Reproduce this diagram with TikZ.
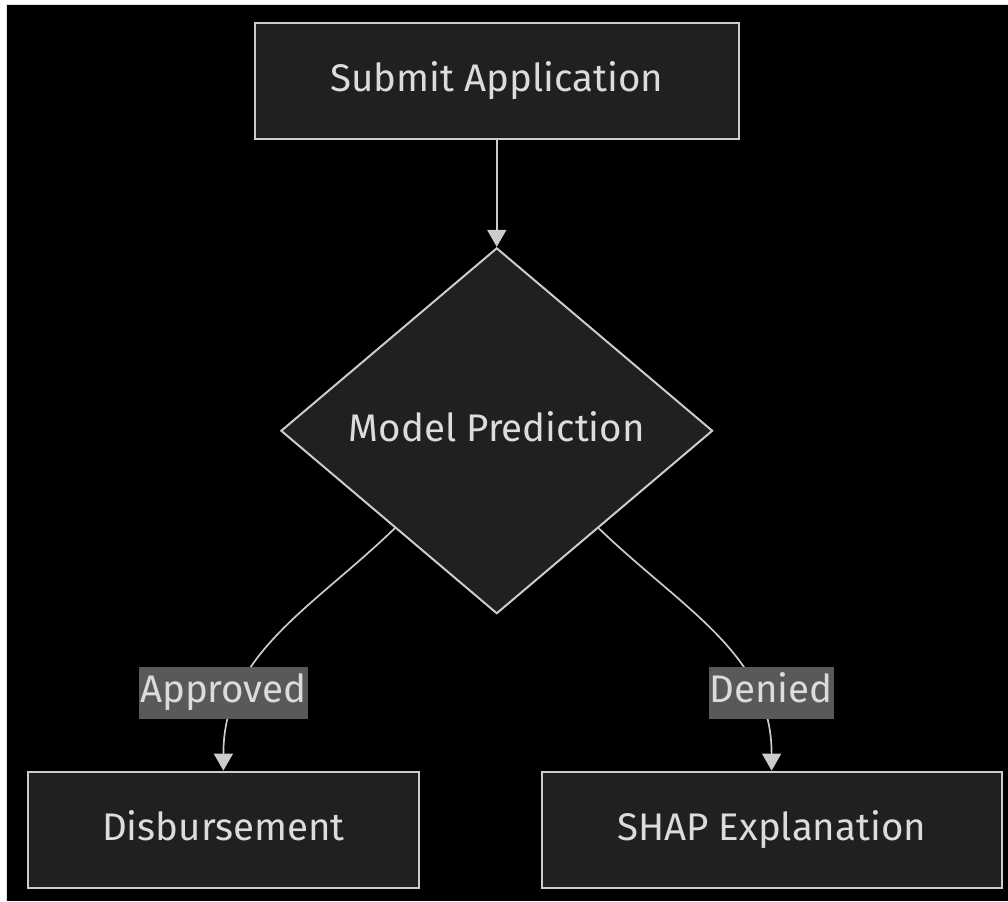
\documentclass[tikz,border=0pt]{standalone}
\usepackage{fontspec}
\setmainfont{Fira Sans}
\usetikzlibrary{shapes.geometric,arrows.meta,calc}

\definecolor{nodefill}{HTML}{1F2020}
\definecolor{nodeline}{HTML}{CCCCCC}
\definecolor{labelfill}{HTML}{595959}
\definecolor{textgrey}{HTML}{DCDCDC}

\begin{document}
\begin{tikzpicture}[x=1pt,y=1pt]
    \pgfmathsetmacro{\boxheight}{116}
    \pgfmathsetmacro{\labelheight}{52}
    \providecommand{\flowfontsize}{\fontsize{38.5}{42}\selectfont}
    \tikzset{
        flowbox/.style={draw=nodeline,fill=nodefill,line width=2pt,text=textgrey,font=\flowfontsize,text height=28,text depth=7,minimum height=\boxheight,inner sep=0},
        decision/.style={flowbox,diamond,minimum width=432,minimum height=366},
        edgelabel/.style={fill=labelfill,text=textgrey,font=\flowfontsize,text height=28,text depth=8,minimum height=\labelheight,inner xsep=1,inner ysep=0},
        flowedge/.style={draw=nodeline,line width=1.7pt,-{Triangle[length=17,width=19]}}
    }
    % page and dark canvas
    \fill[white] (0,0) rectangle (1008,-901);
    \fill[black] (7,-5) rectangle (1008,-901);
    \draw[nodeline!60,line width=1pt] (7,-901) -- (7,-5) -- (1008,-5);
    % nodes
    \node[flowbox,minimum width=484] (submit) at (497,-81) {Submit Application};
    \node[decision] (predict) at (497,-431) {Model Prediction};
    \node[flowbox,minimum width=391] (payout) at (223.5,-830) {Disbursement};
    \node[flowbox,minimum width=460] (shap) at (772,-830) {SHAP Explanation};
    % connectors
    \draw[flowedge] (submit) -- (predict);
    \draw[flowedge] ($(predict.west)!0.53!(predict.south)$) to[out=-136,in=90] (payout.north);
    \draw[flowedge] ($(predict.east)!0.53!(predict.south)$) to[out=-44,in=90] (shap.north);
    % edge labels
    \node[edgelabel] (approved) at (223.5,-693) {Approved};
    \node[edgelabel] (denied) at (771.5,-693) {Denied};
\end{tikzpicture}
\end{document}
